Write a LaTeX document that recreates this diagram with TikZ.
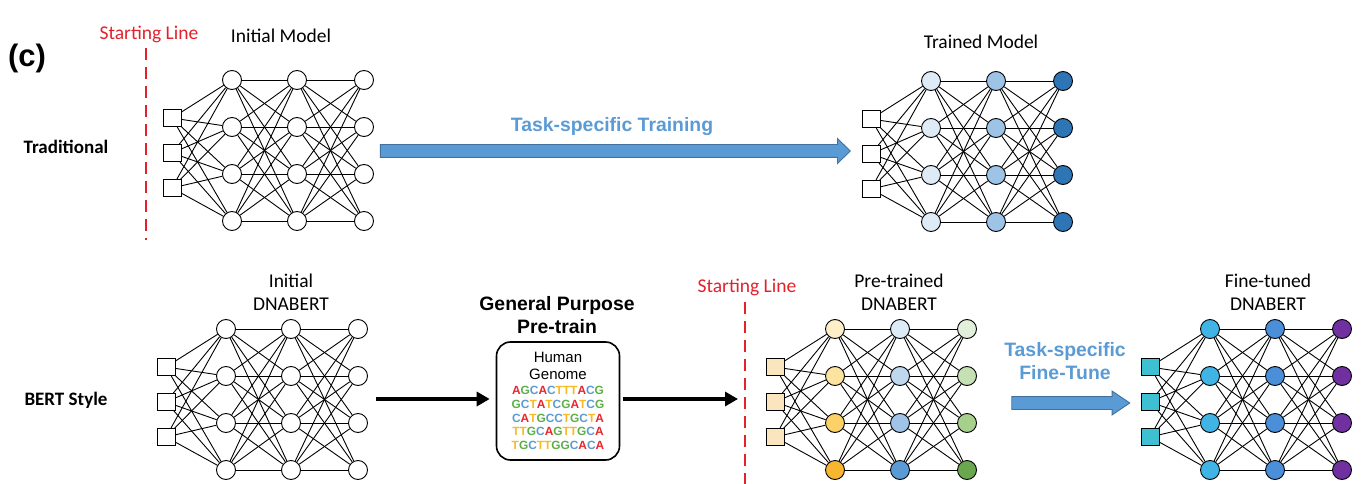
\documentclass[tikz,border=0pt]{standalone}
\usepackage{fontspec}
\setmainfont{Carlito}
\newfontfamily\arialfont{Liberation Sans}
\usetikzlibrary{arrows.meta,shapes.arrows}

\definecolor{startred}{HTML}{E4202B}
\definecolor{taskblue}{HTML}{5B9BD5}
\definecolor{arrowedge}{HTML}{41719C}
% trained model
\definecolor{trA}{HTML}{DEEBF7}
\definecolor{trB}{HTML}{9DC3E6}
\definecolor{trC}{HTML}{2E75B6}
% pre-trained
\definecolor{ptIn}{HTML}{FBE5BE}
\definecolor{ptYa}{HTML}{FDF0C9}
\definecolor{ptYb}{HTML}{FCE3A0}
\definecolor{ptYc}{HTML}{FBD168}
\definecolor{ptYd}{HTML}{F6B62F}
\definecolor{ptBa}{HTML}{DDEBF7}
\definecolor{ptBb}{HTML}{C0D8EE}
\definecolor{ptBc}{HTML}{9FC4E7}
\definecolor{ptBd}{HTML}{5B9BD5}
\definecolor{ptGa}{HTML}{E2EFDA}
\definecolor{ptGb}{HTML}{C5E0B3}
\definecolor{ptGc}{HTML}{A8D08D}
\definecolor{ptGd}{HTML}{6AA84F}
% fine-tuned
\definecolor{ftIn}{HTML}{3EC0D2}
\definecolor{ftA}{HTML}{40B5E5}
\definecolor{ftB}{HTML}{4A8FD8}
\definecolor{ftC}{HTML}{7030A0}
% bases
\definecolor{dnaA}{HTML}{E8262D}
\definecolor{dnaG}{HTML}{5DB048}
\definecolor{dnaC}{HTML}{5B9BD5}
\definecolor{dnaT}{HTML}{F7B924}

\def\dna#1{\dnaloop#1\relax}
\def\dnaloop#1{\ifx#1\relax\else\textcolor{dna#1}{#1}\expandafter\dnaloop\fi}

\tikzset{
  neuron/.style={circle, draw=black, line width=0.9pt, minimum size=19pt, inner sep=0pt, fill=white},
  inputbox/.style={rectangle, draw=black, line width=0.9pt, minimum width=18pt, minimum height=17pt, inner sep=0pt, fill=white},
  wire/.style={black, line width=0.9pt},
  startline/.style={draw=startred, line width=2.8pt, dash pattern=on 12pt off 7pt},
  startlabel/.style={text=startred, font=\fontsize{19.5}{23}\selectfont},
  netlabel/.style={align=center, font=\fontsize{19.5}{23}\selectfont},
  rowlabel/.style={font=\bfseries\fontsize{19}{22}\selectfont},
  tasklabel/.style={text=taskblue, align=center, font=\arialfont\bfseries\fontsize{19.4}{23}\selectfont},
  blockarrow/.style={single arrow, draw=arrowedge, fill=taskblue, line width=0.9pt, inner sep=0pt, inner ysep=6pt},
  pushline/.style={line width=4pt, -{Triangle[length=13pt,width=14pt]}},
}

% #1 name, #2 x of inputs, #3 y of top neuron, #4 input fill, #5-#7 layer fills
\newcommand{\neuralnet}[7]{%
  \foreach \r in {1,2,3}
    \node[inputbox, fill=#4] (#1-0-\r) at (#2, #3+3+35*\r) {};
  \foreach \c [count=\r] in {#5}
    \node[neuron, fill=\c] (#1-1-\r) at (#2+60, #3+47*\r-47) {};
  \foreach \c [count=\r] in {#6}
    \node[neuron, fill=\c] (#1-2-\r) at (#2+125, #3+47*\r-47) {};
  \foreach \c [count=\r] in {#7}
    \node[neuron, fill=\c] (#1-3-\r) at (#2+192, #3+47*\r-47) {};
  \foreach \a in {1,2,3}
    \foreach \b in {1,...,4}
      \draw[wire] (#1-0-\a) -- (#1-1-\b);
  \foreach \l/\m in {1/2,2/3}
    \foreach \a in {1,...,4}
      \foreach \b in {1,...,4}
        \draw[wire] (#1-\l-\a) -- (#1-\m-\b);
}

\begin{document}
\begin{tikzpicture}[x=1pt, y=-1pt]

  \useasboundingbox (0,0) rectangle (1363,484);

  \node[font=\arialfont\bfseries\fontsize{31}{33}\selectfont] (panel) at (27,58) {(c)};
  \node[rowlabel] (traditional) at (66,147) {Traditional};
  \node[rowlabel] (bertstyle) at (66,400) {BERT Style};

  % traditional row
  \node[startlabel] (start1) at (149,34) {Starting Line};
  \coordinate (s1top) at (146,48);
  \coordinate (s1bot) at (146,240);
  \draw[startline] (s1top) -- (s1bot);

  \node[netlabel] (initmodel) at (281,36) {Initial Model};
  \neuralnet{im}{172}{80}{white}{white,white,white,white}{white,white,white,white}{white,white,white,white}

  \node[blockarrow, minimum height=470pt, single arrow head extend=6pt, single arrow tip angle=88] (trainarr) at (612,151) {};
  \node[tasklabel] (trainlabel) at (612,127) {Task-specific Training};

  \node[netlabel] (trainedmodel) at (981,42) {Trained Model};
  \neuralnet{tm}{871}{81}{white}{trA,trA,trA,trA}{trB,trB,trB,trB}{trC,trC,trC,trC}

  % bert style row
  \node[netlabel] (initbert) at (291,292) {Initial\\DNABERT};
  \neuralnet{ib}{166}{329}{white}{white,white,white,white}{white,white,white,white}{white,white,white,white}

  \node[tasklabel, text=black] (pretrainlabel) at (557,315) {General Purpose\\Pre-train};
  \node[draw, line width=1.6pt, rounded corners=14pt, minimum width=123pt, minimum height=118pt] (genome) at (558,401) {};
  \node[font=\arialfont\fontsize{15}{17}\selectfont, align=center] (genomelabel) at (558,366) {Human\\Genome};
  \node[font=\arialfont\bfseries\fontsize{11.9}{13.7}\selectfont, align=center, inner sep=0pt] (genomeseq) at (558,418)
    {\dna{AGCACTTTACG}\\\dna{GCTATCGATCG}\\\dna{CATGCCTGCTA}\\\dna{TTGCAGTTGCA}\\\dna{TGCTTGGCACA}};

  \coordinate (ibout) at (376,399);
  \coordinate (ptin) at (738,399);
  \draw[pushline, shorten >=6pt] (ibout) -- (genome.west |- ibout);
  \draw[pushline, shorten <=3pt] (genome.east |- ptin) -- (ptin);

  \node[startlabel] (start2) at (747,287) {Starting Line};
  \coordinate (s2top) at (745,302);
  \coordinate (s2bot) at (745,484);
  \draw[startline] (s2top) -- (s2bot);

  \node[netlabel] (pretrained) at (899,292) {Pre-trained\\DNABERT};
  \neuralnet{pt}{775}{329}{ptIn}{ptYa,ptYb,ptYc,ptYd}{ptBa,ptBb,ptBc,ptBd}{ptGa,ptGb,ptGc,ptGd}

  \node[tasklabel] (finetunelabel) at (1065,361) {Task-specific\\Fine-Tune};
  \node[blockarrow, minimum height=118pt, single arrow head extend=5.5pt, single arrow tip angle=68] (finetunearr) at (1066,403) {};

  \node[netlabel] (finetuned) at (1268,292) {Fine-tuned\\DNABERT};
  \neuralnet{ft}{1150}{329}{ftIn}{ftA,ftA,ftA,ftA}{ftB,ftB,ftB,ftB}{ftC,ftC,ftC,ftC}

\end{tikzpicture}
\end{document}
